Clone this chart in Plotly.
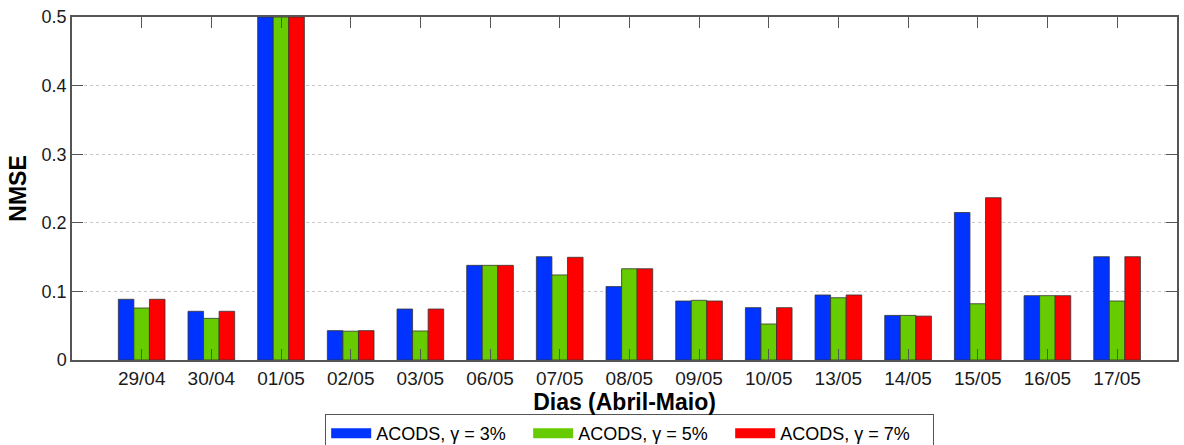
import plotly.graph_objects as go

dias = ["29/04", "30/04", "01/05", "02/05", "03/05", "06/05", "07/05", "08/05",
        "09/05", "10/05", "13/05", "14/05", "15/05", "16/05", "17/05"]
nmse_g3 = [0.0885, 0.071, 0.5, 0.0428, 0.0743, 0.138, 0.1506, 0.107, 0.086, 0.0763,
           0.0948, 0.065, 0.215, 0.0938, 0.1506]
nmse_g5 = [0.0758, 0.0607, 0.5, 0.042, 0.0423, 0.138, 0.124, 0.133, 0.087, 0.0525,
           0.0908, 0.065, 0.082, 0.0938, 0.086]
nmse_g7 = [0.0885, 0.071, 0.5, 0.0428, 0.0743, 0.138, 0.1497, 0.133, 0.086, 0.0763,
           0.0948, 0.064, 0.2366, 0.0938, 0.1506]
series_names = ["ACODS, γ = 3%", "ACODS, γ = 5%", "ACODS, γ = 7%"]
colors = ["#0033FF", "#66CC00", "#FF0000"]
y_ticks = [0, 0.1, 0.2, 0.3, 0.4, 0.5]
y_ticktext = ["0", "0.1", "0.2", "0.3", "0.4", "0.5"]

fig = go.Figure()
for name, vals, col in zip(series_names, [nmse_g3, nmse_g5, nmse_g7], colors):
    fig.add_trace(go.Bar(
        x=list(range(len(dias))), y=vals, name=name, showlegend=False,
        marker=dict(color=col, line=dict(color="#333333", width=0.8)),
    ))
# legend-only entries drawn as wide colour swatches
for name, col in zip(series_names, colors):
    fig.add_trace(go.Scatter(
        x=[None], y=[None], mode="lines", name=name,
        line=dict(color=col, width=22),
    ))

font_family = "Arial, Liberation Sans, sans-serif"
fig.update_layout(
    width=1184, height=445,
    margin=dict(l=72, r=7, t=17, b=85, autoexpand=False),
    paper_bgcolor="white", plot_bgcolor="white",
    barmode="group", bargap=0.33, bargroupgap=0,
    font=dict(family=font_family, color="#1a1a1a", size=16),
    showlegend=True,
    legend=dict(
        orientation="h", x=0.5045, xanchor="center", y=-0.157, yanchor="top",
        bordercolor="#555555", borderwidth=1.2, bgcolor="white",
        font=dict(size=18, color="#000000"),
        itemwidth=40, tracegroupgap=0, entrywidth=147,
    ),
)
fig.update_xaxes(
    range=[-1, 14.86],
    tickmode="array", tickvals=list(range(len(dias))), ticktext=dias,
    ticks="inside", ticklen=11, tickcolor="#555555",
    showline=True, linecolor="#555555", linewidth=1.5, mirror="ticks",
    showgrid=False, zeroline=False,
    tickfont=dict(size=19, color="#1a1a1a"),
    title=dict(text="<b>Dias (Abril-Maio)</b>", font=dict(size=23, color="#000000"), standoff=1),
)
fig.update_yaxes(
    range=[0, 0.5],
    tickmode="array", tickvals=y_ticks, ticktext=y_ticktext,
    ticks="inside", ticklen=11, tickcolor="#555555",
    showline=True, linecolor="#555555", linewidth=1.5, mirror="ticks",
    showgrid=True, gridcolor="#c8c8c8", griddash="dot", gridwidth=1,
    zeroline=False,
    tickfont=dict(size=18, color="#1a1a1a"),
    title=dict(text="<b>NMSE</b>", font=dict(size=23, color="#000000"), standoff=9),
)

fig.write_html("out.html")
